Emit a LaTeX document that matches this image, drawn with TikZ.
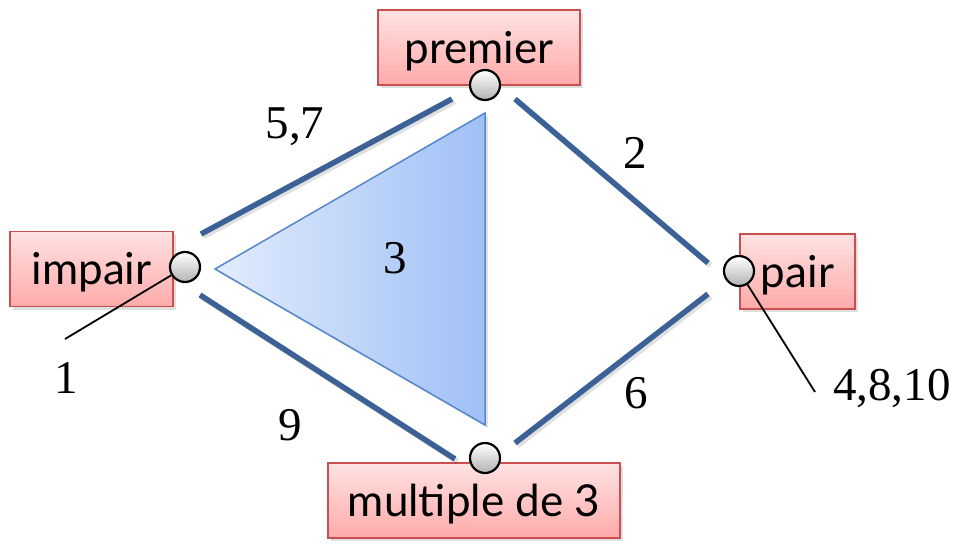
\documentclass[tikz,border=0pt]{standalone}
\usepackage{fontspec}
\setmainfont{Liberation Serif}
\newfontfamily\numfont{Liberation Serif}
\newfontfamily\boxfont{Lato}
\usetikzlibrary{shadows}
\definecolor{boxedge}{RGB}{200,80,80}
\definecolor{boxtop}{RGB}{255,226,226}
\definecolor{boxbot}{RGB}{255,170,170}
\definecolor{edgeblue}{RGB}{59,97,150}
\definecolor{triL}{RGB}{226,236,252}
\definecolor{triR}{RGB}{160,192,246}
\definecolor{triedge}{RGB}{85,135,205}
\begin{document}
\begin{tikzpicture}[x=1pt,y=-1pt,
  lbox/.style={draw=boxedge, line width=1.5pt, top color=boxtop, bottom color=boxbot,
    minimum height=75pt, inner sep=0pt, font=\boxfont\fontsize{44}{48}\selectfont,
    text height=31pt, text depth=0pt,
    drop shadow={shadow xshift=3pt,shadow yshift=-3pt,opacity=0.25}},
  dot/.style={circle, draw=black, line width=2.2pt, top color=white, bottom color=black!30,
    minimum size=30pt, inner sep=0pt},
  edgeline/.style={draw=edgeblue, line width=5.5pt},
  lead/.style={draw=black, line width=1.8pt},
  num/.style={font=\numfont\fontsize{47}{50}\selectfont, inner sep=0pt, anchor=base}]
\useasboundingbox (0,0) rectangle (957,544);

% boxes
\node[lbox, minimum width=202pt] (premier) at (479,47.5) {premier};
\node[lbox, minimum width=163pt] (impair) at (91.5,269) {impair};
\node[lbox, minimum width=115pt] (pair) at (797.5,271.5) {pair};
\node[lbox, minimum width=292pt] (mult) at (474,500.5) {multiple de 3};

% triangle
\coordinate (tA) at (215,269);
\coordinate (tB) at (485,113);
\coordinate (tC) at (485,425);
\path[fill=black, opacity=0.12] ([shift={(3,3)}]tA) -- ([shift={(3,3)}]tB) -- ([shift={(3,3)}]tC) -- cycle;
\draw[triedge, line width=1.5pt, left color=triL, right color=triR] (tA) -- (tB) -- (tC) -- cycle;

% edge end points
\coordinate (e1a) at (201,234);
\coordinate (e1b) at (452,99);
\coordinate (e2a) at (515,99);
\coordinate (e2b) at (708,263);
\coordinate (e3a) at (200,295);
\coordinate (e3b) at (455,459);
\coordinate (e4a) at (708,294);
\coordinate (e4b) at (515,443);
\foreach \a/\b in {e1a/e1b,e2a/e2b,e3a/e3b,e4a/e4b}{
  \draw[black, opacity=0.12, line width=5.5pt] ([shift={(2.5,2.5)}]\a) -- ([shift={(2.5,2.5)}]\b);
  \draw[edgeline] (\a) -- (\b);
}

% leads
\coordinate (l1) at (65,339);
\coordinate (l2) at (815,392);

% dots
\node[dot] (cpremier) at (485,85) {};
\node[dot] (cimpair) at (185,267) {};
\node[dot] (cpair) at (739,271) {};
\node[dot] (cmult) at (485,458) {};

\draw[lead] (cimpair) -- (l1);
\draw[lead] (cpair) -- (l2);

% numbers
\node[num] (n57) at (295,138) {5,7};
\node[num] (n2) at (635,168) {2};
\node[num] (n3) at (395,273) {3};
\node[num] (n1) at (66,393) {1};
\node[num] (n9) at (290,440) {9};
\node[num] (n6) at (636,408) {6};
\node[num, anchor=base west] (n4810) at (833,400) {4,8,10};
\end{tikzpicture}
\end{document}
